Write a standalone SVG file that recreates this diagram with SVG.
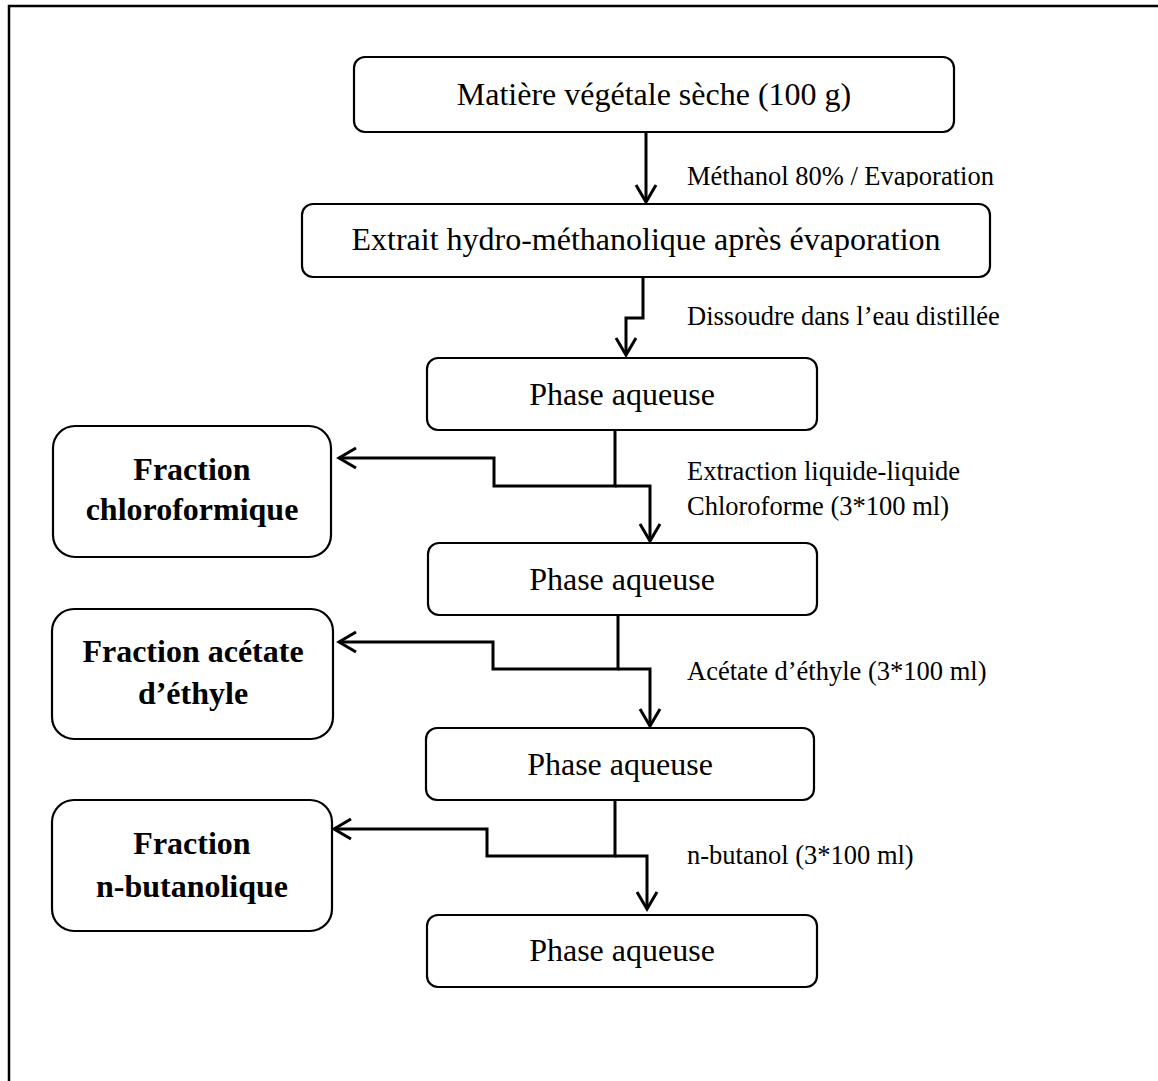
<svg xmlns="http://www.w3.org/2000/svg" width="1158" height="1081" viewBox="0 0 1158 1081">
<style>
.box{fill:#fff;stroke:#000;stroke-width:2.2}
.t{font-family:"Liberation Serif","Times New Roman",serif;font-size:32px;fill:#000;text-anchor:middle}
.b{font-weight:bold}
.lbl{font-family:"Liberation Serif","Times New Roman",serif;font-size:26.5px;fill:#000}
.c{fill:none;stroke:#000;stroke-width:3;stroke-linejoin:miter;marker-end:url(#arr)}
</style>
<defs>
<marker id="arr" markerUnits="userSpaceOnUse" viewBox="-20 -12 24 24" refX="0" refY="0" markerWidth="24" markerHeight="24" orient="auto" overflow="visible">
<path d="M-17,-10 L0,0 L-17,10" fill="none" stroke="#000" stroke-width="3"/>
</marker>
<clipPath id="clipM"><rect x="680" y="150" width="420" height="37"/></clipPath>
</defs>
<rect width="1158" height="1081" fill="#fff"/>
<path d="M9,1081 V6 H1158" fill="none" stroke="#000" stroke-width="2.5"/>

<g id="connectors">
<path class="c" d="M646,132 V202"/>
<path class="c" d="M643,277 V318 H626 V355"/>
<path class="c" d="M615,430 V486 H494 V458 H339"/>
<path class="c" d="M615,486 H650 V541"/>
<path class="c" d="M618,615 V669 H493 V642 H339"/>
<path class="c" d="M618,669 H650 V726"/>
<path class="c" d="M615,800 V856 H487 V829 H334"/>
<path class="c" d="M615,856 H647 V909"/>
</g>

<g id="labels">
<text class="lbl" x="687" y="185" clip-path="url(#clipM)">Méthanol 80% / Evaporation</text>
<text class="lbl" x="687" y="325">Dissoudre dans l’eau distillée</text>
<text class="lbl" x="687" y="480">Extraction liquide-liquide</text>
<text class="lbl" x="687" y="515">Chloroforme (3*100 ml)</text>
<text class="lbl" x="687" y="680">Acétate d’éthyle (3*100 ml)</text>
<text class="lbl" x="687" y="864">n-butanol (3*100 ml)</text>
</g>

<g id="n1"><rect class="box" x="354" y="57" width="600" height="75" rx="11"/><text class="t" x="654" y="105">Matière végétale sèche (100 g)</text></g>
<g id="n2"><rect class="box" x="302" y="204" width="688" height="73" rx="11"/><text class="t" x="646" y="250">Extrait hydro-méthanolique après évaporation</text></g>
<g id="n3"><rect class="box" x="427" y="358" width="390" height="72" rx="11"/><text class="t" x="622" y="405">Phase aqueuse</text></g>
<g id="n4"><rect class="box" x="428" y="543" width="389" height="72" rx="11"/><text class="t" x="622" y="590">Phase aqueuse</text></g>
<g id="n5"><rect class="box" x="426" y="728" width="388" height="72" rx="11"/><text class="t" x="620" y="775">Phase aqueuse</text></g>
<g id="n6"><rect class="box" x="427" y="915" width="390" height="72" rx="11"/><text class="t" x="622" y="961">Phase aqueuse</text></g>

<g id="f1"><rect class="box" x="53" y="426" width="278" height="131" rx="22"/><text class="t b" x="192" y="480">Fraction</text><text class="t b" x="192" y="520">chloroformique</text></g>
<g id="f2"><rect class="box" x="52" y="609" width="281" height="130" rx="22"/><text class="t b" x="193" y="662">Fraction acétate</text><text class="t b" x="193" y="704">d’éthyle</text></g>
<g id="f3"><rect class="box" x="52" y="800" width="280" height="131" rx="22"/><text class="t b" x="192" y="854">Fraction</text><text class="t b" x="192" y="897">n-butanolique</text></g>
</svg>
